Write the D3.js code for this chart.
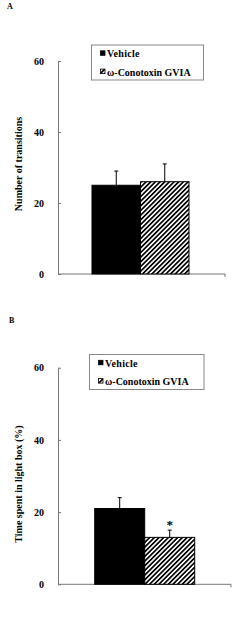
<!DOCTYPE html>
<html lang="en">
<head>
    <meta charset="UTF-8">
    <title>Light-dark box test</title>
    <script src="https://d3js.org/d3.v7.min.js"></script>
    <style>
        body { margin: 0; background: #fff; }
        svg text { font-family: "Liberation Serif", "Times New Roman", serif; font-weight: bold; }
    </style>
</head>
<body>
    <div class="chart"></div>
    <script>
        // Data
        const groups = ["Vehicle", "ω-Conotoxin GVIA"];
        const yTicks = [0, 20, 40, 60];

        const transitionsMean = [25, 26];
        const transitionsErr = [4, 5];

        const lightBoxMean = [21, 13];
        const lightBoxErr = [3, 2];
        const lightBoxSig = ["", "*"];

        const svg = d3.select(".chart")
            .append("svg")
            .attr("width", 242)
            .attr("height", 619);

        // hatch for the second group
        const hw = 3.3;
        const defs = svg.append("defs");
        const pat = defs.append("pattern")
            .attr("id", "hatch")
            .attr("patternUnits", "userSpaceOnUse")
            .attr("width", hw)
            .attr("height", hw)
            .attr("patternTransform", "rotate(45)");
        pat.append("rect").attr("width", hw).attr("height", hw).attr("fill", "#fff");
        pat.append("rect")
            .attr("x", 0).attr("y", 0).attr("width", 1.7).attr("height", hw)
            .attr("fill", "#000");

        const fills = ["#000", "url(#hatch)"];

        function panel(cfg) {
            const g = svg.append("g");

            const y = d3.scaleLinear().domain([0, 60]).range([cfg.y0, cfg.y60]);
            const x = d3.scaleBand().domain(groups).range([cfg.barL, cfg.barR]).padding(0);

            // panel letter
            g.append("text")
                .attr("x", cfg.letterX).attr("y", cfg.letterY)
                .attr("font-size", 8)
                .text(cfg.letter);

            // y axis
            const ax = g.append("g")
                .attr("transform", `translate(58,0)`)
                .call(d3.axisLeft(y).tickValues(yTicks).tickSize(-3).tickSizeOuter(0).tickPadding(14));
            ax.select(".domain").attr("stroke", "#777");
            ax.selectAll(".tick line").attr("stroke", "#777");
            ax.selectAll(".tick text")
                .attr("font-size", 10)
                .attr("font-family", "Liberation Serif")
                .attr("font-weight", "bold")
                .attr("fill", "#000");

            // x axis line
            g.append("line")
                .attr("x1", 58).attr("x2", cfg.axisR)
                .attr("y1", y(0)).attr("y2", y(0))
                .attr("stroke", "#777");
            g.append("line")
                .attr("x1", cfg.axisR).attr("x2", cfg.axisR)
                .attr("y1", y(0)).attr("y2", y(0) + 3)
                .attr("stroke", "#777");

            // y label
            g.append("text")
                .attr("transform", `translate(22,${cfg.labelY}) rotate(-90)`)
                .attr("text-anchor", "middle")
                .attr("font-size", 10)
                .text(cfg.label);

            // error bars (upper only)
            groups.forEach((k, i) => {
                const cx = x(k) + x.bandwidth() / 2;
                const top = y(cfg.mean[i] + cfg.err[i]);
                g.append("line")
                    .attr("x1", cx).attr("x2", cx)
                    .attr("y1", y(cfg.mean[i])).attr("y2", top)
                    .attr("stroke", "#000").attr("stroke-width", 1);
                g.append("line")
                    .attr("x1", cx - 2).attr("x2", cx + 2)
                    .attr("y1", top).attr("y2", top)
                    .attr("stroke", "#000").attr("stroke-width", 1);
            });

            // bars
            g.selectAll(".bar")
                .data(groups)
                .join("rect")
                .attr("x", d => x(d))
                .attr("y", (d, i) => y(cfg.mean[i]))
                .attr("width", x.bandwidth())
                .attr("height", (d, i) => y(0) - y(cfg.mean[i]))
                .attr("fill", (d, i) => fills[i])
                .attr("stroke", "#000")
                .attr("stroke-width", 1);

            // significance marks
            if (cfg.sig) {
                groups.forEach((k, i) => {
                    if (!cfg.sig[i]) return;
                    g.append("text")
                        .attr("x", x(k) + x.bandwidth() / 2)
                        .attr("y", y(cfg.mean[i] + cfg.err[i]) - 1)
                        .attr("text-anchor", "middle")
                        .attr("font-size", 13)
                        .attr("font-weight", "normal")
                        .text(cfg.sig[i]);
                });
            }

            // legend
            const lg = g.append("g");
            lg.append("rect")
                .attr("x", cfg.legX).attr("y", cfg.legY)
                .attr("width", cfg.legW).attr("height", 35)
                .attr("fill", "#fff")
                .attr("stroke", "#888")
                .attr("stroke-width", 1);
            groups.forEach((k, i) => {
                const base = cfg.legY + 12.3 + i * 18.3;
                lg.append("rect")
                    .attr("x", cfg.legX + 9).attr("y", base - 6.5)
                    .attr("width", 4.5).attr("height", 4.5)
                    .attr("fill", fills[i])
                    .attr("stroke", "#000")
                    .attr("stroke-width", 0.8);
                lg.append("text")
                    .attr("x", cfg.legX + 15.5).attr("y", base)
                    .attr("font-size", 10)
                    .attr("letter-spacing", i === 0 ? 0.3 : 0)
                    .text(k);
            });
        }

        panel({
            letter: "A", letterX: 7, letterY: 9,
            y0: 274, y60: 61,
            barL: 92, barR: 189, axisR: 225,
            mean: transitionsMean, err: transitionsErr,
            label: "Number of transitions", labelY: 164,
            legX: 91.5, legY: 45, legW: 112
        });

        panel({
            letter: "B", letterX: 9, letterY: 323,
            y0: 584.3, y60: 367.7,
            barL: 94.7, barR: 194.7, axisR: 231,
            mean: lightBoxMean, err: lightBoxErr, sig: lightBoxSig,
            label: "Time spent in light box (%)", labelY: 484,
            legX: 89.5, legY: 354.5, legW: 114.5
        });
    </script>
</body>
</html>
